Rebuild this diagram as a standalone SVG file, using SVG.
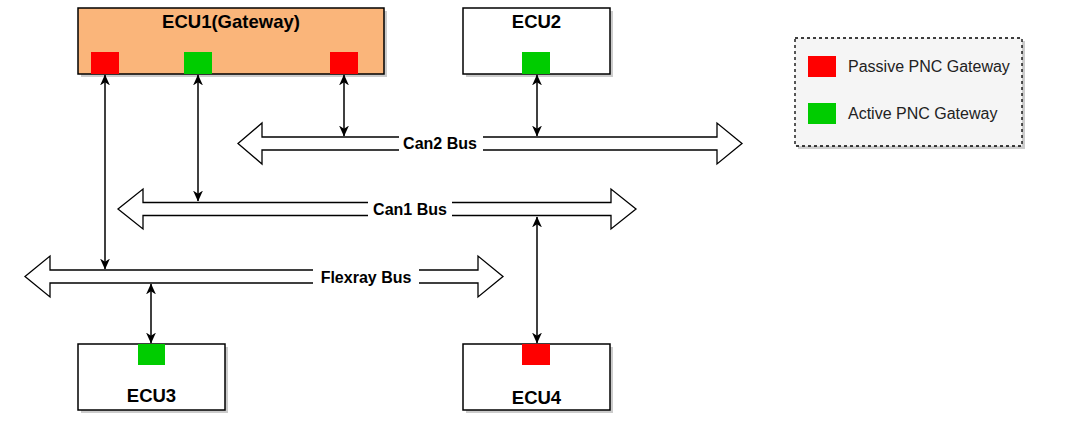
<svg xmlns="http://www.w3.org/2000/svg" width="1065" height="424" viewBox="0 0 1065 424">
<style>
.box{stroke:#000;stroke-width:1.5}
.shadow{fill:#999;opacity:0.5}
.title{font-family:"Liberation Sans",Arial,sans-serif;font-weight:bold;font-size:18.5px;fill:#000;text-anchor:middle}
.bus{fill:#fff;stroke:#000;stroke-width:1.3}
.buslabel{font-family:"Liberation Sans",Arial,sans-serif;font-weight:bold;font-size:16px;fill:#000;text-anchor:middle}
.leg{font-family:"Liberation Sans",Arial,sans-serif;font-size:16px;fill:#222}
.red{fill:#ff0000}
.green{fill:#00cc00}
.conn{stroke:#000;stroke-width:1.5;fill:none;marker-start:url(#ah);marker-end:url(#ah)}
</style>
<defs>
<marker id="ah" viewBox="0 0 10 10" refX="9.5" refY="5" markerWidth="11" markerHeight="11" orient="auto-start-reverse" markerUnits="userSpaceOnUse">
<path d="M0,0.5 L10,5 L0,9.5 L3,5 Z" fill="#000"/>
</marker>
</defs>
<rect width="1065" height="424" fill="#fff"/>

<g id="legend">
<rect x="798" y="41" width="227" height="108" class="shadow"/>
<rect x="795" y="38" width="227" height="108" fill="#f5f5f5" stroke="#000" stroke-width="1.3" stroke-dasharray="3,3"/>
<rect x="808" y="56" width="28" height="21" class="red"/>
<text x="848" y="72" class="leg">Passive PNC Gateway</text>
<rect x="808" y="103" width="28" height="21" class="green"/>
<text x="848" y="119" class="leg">Active PNC Gateway</text>
</g>

<g id="buses">
<g id="can2">
<polygon class="bus" points="238,143.5 262,123 262,137 717,137 717,123 742,143.5 717,164 717,150 262,150 262,164"/>
<rect x="399" y="134" width="84" height="19" fill="#fff"/>
<text x="440" y="149" class="buslabel">Can2 Bus</text>
</g>
<g id="can1">
<polygon class="bus" points="118,209 143,189 143,202.5 611,202.5 611,189 636,209 611,229 611,215.5 143,215.5 143,229"/>
<rect x="368" y="200" width="84" height="19" fill="#fff"/>
<text x="410" y="215" class="buslabel">Can1 Bus</text>
</g>
<g id="flexray">
<polygon class="bus" points="25,276.5 50,256 50,270 478,270 478,256 503,276.5 478,297 478,283 50,283 50,297"/>
<rect x="313" y="267" width="106" height="19" fill="#fff"/>
<text x="366" y="282.5" class="buslabel">Flexray Bus</text>
</g>
</g>

<g id="ecu1">
<rect x="81" y="11" width="306" height="66" class="shadow"/>
<rect x="78" y="8" width="306" height="66" fill="#fab57a" class="box"/>
<text x="231" y="28" class="title">ECU1(Gateway)</text>
<rect x="91" y="52" width="28" height="22" class="red"/>
<rect x="184" y="52" width="28" height="22" class="green"/>
<rect x="330" y="52" width="28" height="22" class="red"/>
</g>

<g id="ecu2">
<rect x="466" y="11" width="147" height="66" class="shadow"/>
<rect x="463" y="8" width="147" height="66" fill="#fff" class="box"/>
<text x="536.5" y="28" class="title">ECU2</text>
<rect x="522" y="52" width="28" height="22" class="green"/>
</g>

<g id="ecu3">
<rect x="81" y="347" width="147" height="66" class="shadow"/>
<rect x="78" y="344" width="147" height="66" fill="#fff" class="box"/>
<rect x="138" y="344" width="27" height="21" class="green"/>
<text x="151.5" y="402" class="title">ECU3</text>
</g>

<g id="ecu4">
<rect x="466" y="347" width="147" height="66" class="shadow"/>
<rect x="463" y="344" width="147" height="66" fill="#fff" class="box"/>
<rect x="522" y="344" width="28" height="21" class="red"/>
<text x="536.5" y="404" class="title">ECU4</text>
</g>

<g id="connectors">
<line class="conn" x1="105" y1="75" x2="105" y2="269"/>
<line class="conn" x1="198" y1="75" x2="198" y2="201"/>
<line class="conn" x1="344" y1="75" x2="344" y2="136"/>
<line class="conn" x1="537" y1="75" x2="537" y2="136"/>
<line class="conn" x1="537" y1="217" x2="537" y2="343"/>
<line class="conn" x1="151" y1="284" x2="151" y2="343"/>
</g>
</svg>
